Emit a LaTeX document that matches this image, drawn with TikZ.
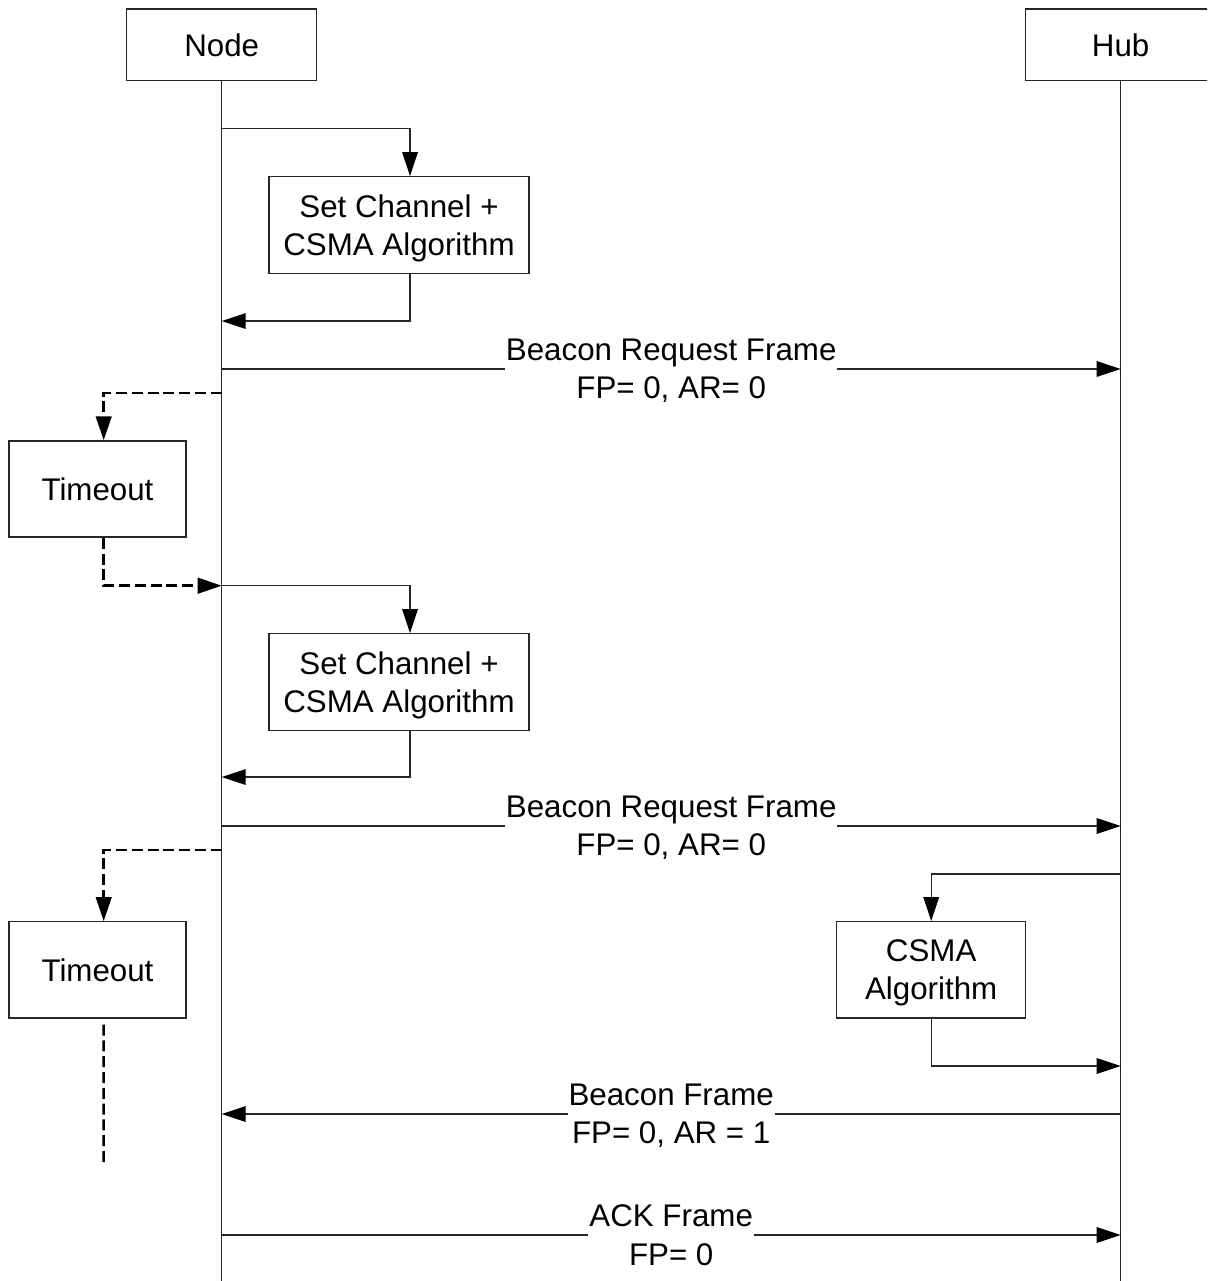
\documentclass[tikz,border=0pt]{standalone}
\usepackage{fontspec}
\setmainfont{Liberation Sans}
\usetikzlibrary{arrows.meta}
% last line of a multi-line label, set without its depth so that the
% block from the first cap line to the last baseline is centred
\newcommand\flatline[1]{\raisebox{0pt}[\height][0pt]{#1}}
\begin{document}
\begin{tikzpicture}[x=0.5pt,y=-0.5pt,
  line width=0.65pt,
  every node/.style={font=\fontsize{15.65}{19.2}\selectfont, text=black},
  box/.style={draw=black!85, rectangle, inner sep=0pt, align=center},
  lifebox/.style={box, minimum width=95pt, minimum height=35.85pt},
  procbox/.style={box, minimum width=130pt, minimum height=48.3pt},
  waitbox/.style={box, minimum width=88.5pt, minimum height=48.1pt},
  hubproc/.style={box, minimum width=94.5pt, minimum height=48.15pt},
  life/.style={draw=black!85},
  tip/.tip={Triangle[length=12pt,width=7.8pt,color=black]},
  msg/.style={draw=black!85, -tip},
  lbl/.style={fill=white, inner xsep=0.5pt, inner ysep=0pt, align=center},
  dashy/.style={draw=black, dash pattern=on 5.5pt off 2.4pt, line width=1.25pt}]

\useasboundingbox (0,0) rectangle (1207,1281);
\clip (0,0) rectangle (1207,1281);

% participants
\node[lifebox] (node) at (221.7,44.85) {Node};
\node[lifebox] (hub)  at (1120.7,44.85) {Hub};

% lifelines
\coordinate (nodeEnd) at (221.7,1290);
\coordinate (hubEnd)  at (1120.7,1290);
\draw[life] (node.south) -- (nodeEnd);
\draw[life] (hub.south) -- (hubEnd);

% local activities
\node[procbox] (set1) at (399,225) {Set Channel +\\\flatline{CSMA Algorithm}};
\node[procbox] (set2) at (399,682) {Set Channel +\\\flatline{CSMA Algorithm}};
\node[waitbox] (to1)  at (97.5,489) {Timeout};
\node[waitbox] (to2)  at (97.5,969.85) {Timeout};
\node[hubproc] (csma) at (931.2,969.85) {CSMA\\\flatline{Algorithm}};

% points on the lifelines
\coordinate (n1)  at (221.7,128.7);
\coordinate (n2)  at (221.7,321);
\coordinate (n3)  at (221.7,369);
\coordinate (h3)  at (1120.7,369);
\coordinate (n4)  at (221.7,393);
\coordinate (n5)  at (221.7,585.7);
\coordinate (n7)  at (221.7,777);
\coordinate (n8)  at (221.7,826);
\coordinate (h8)  at (1120.7,826);
\coordinate (n9)  at (221.7,850);
\coordinate (h11) at (1120.7,874);
\coordinate (h12) at (1120.7,1066);
\coordinate (n13) at (221.7,1114);
\coordinate (h13) at (1120.7,1114);
\coordinate (n14) at (221.7,1235);
\coordinate (h14) at (1120.7,1235);
\coordinate (tEnd) at (103.7,1163);

% first attempt
\draw[msg] (n1) -| ([xshift=5.5pt]set1.north);
\draw[msg] ([xshift=5.5pt]set1.south) |- (n2);
\draw[msg] (n3) -- node[lbl] {Beacon Request Frame\\\flatline{FP= 0, AR= 0}} (h3);
\draw[dashy, -tip] (n4) -| ([xshift=3.1pt]to1.north);
\draw[dashy, -tip] ([xshift=3.1pt]to1.south) |- (n5);

% second attempt
\draw[msg] (n5) -| ([xshift=5.5pt]set2.north);
\draw[msg] ([xshift=5.5pt]set2.south) |- (n7);
\draw[msg] (n8) -- node[lbl] {Beacon Request Frame\\\flatline{FP= 0, AR= 0}} (h8);
\draw[dashy, -tip] (n9) -| ([xshift=3.1pt]to2.north);
\draw[dashy, shorten <=3pt] ([xshift=3.1pt]to2.south) -- (tEnd);

% hub answers
\draw[msg] (h11) -| (csma.north);
\draw[msg] (csma.south) |- (h12);
\draw[msg] (h13) -- node[lbl] {Beacon Frame\\\flatline{FP= 0, AR = 1}} (n13);
\draw[msg] (n14) -- node[lbl] {ACK Frame\\\flatline{FP= 0}} (h14);
\end{tikzpicture}
\end{document}
